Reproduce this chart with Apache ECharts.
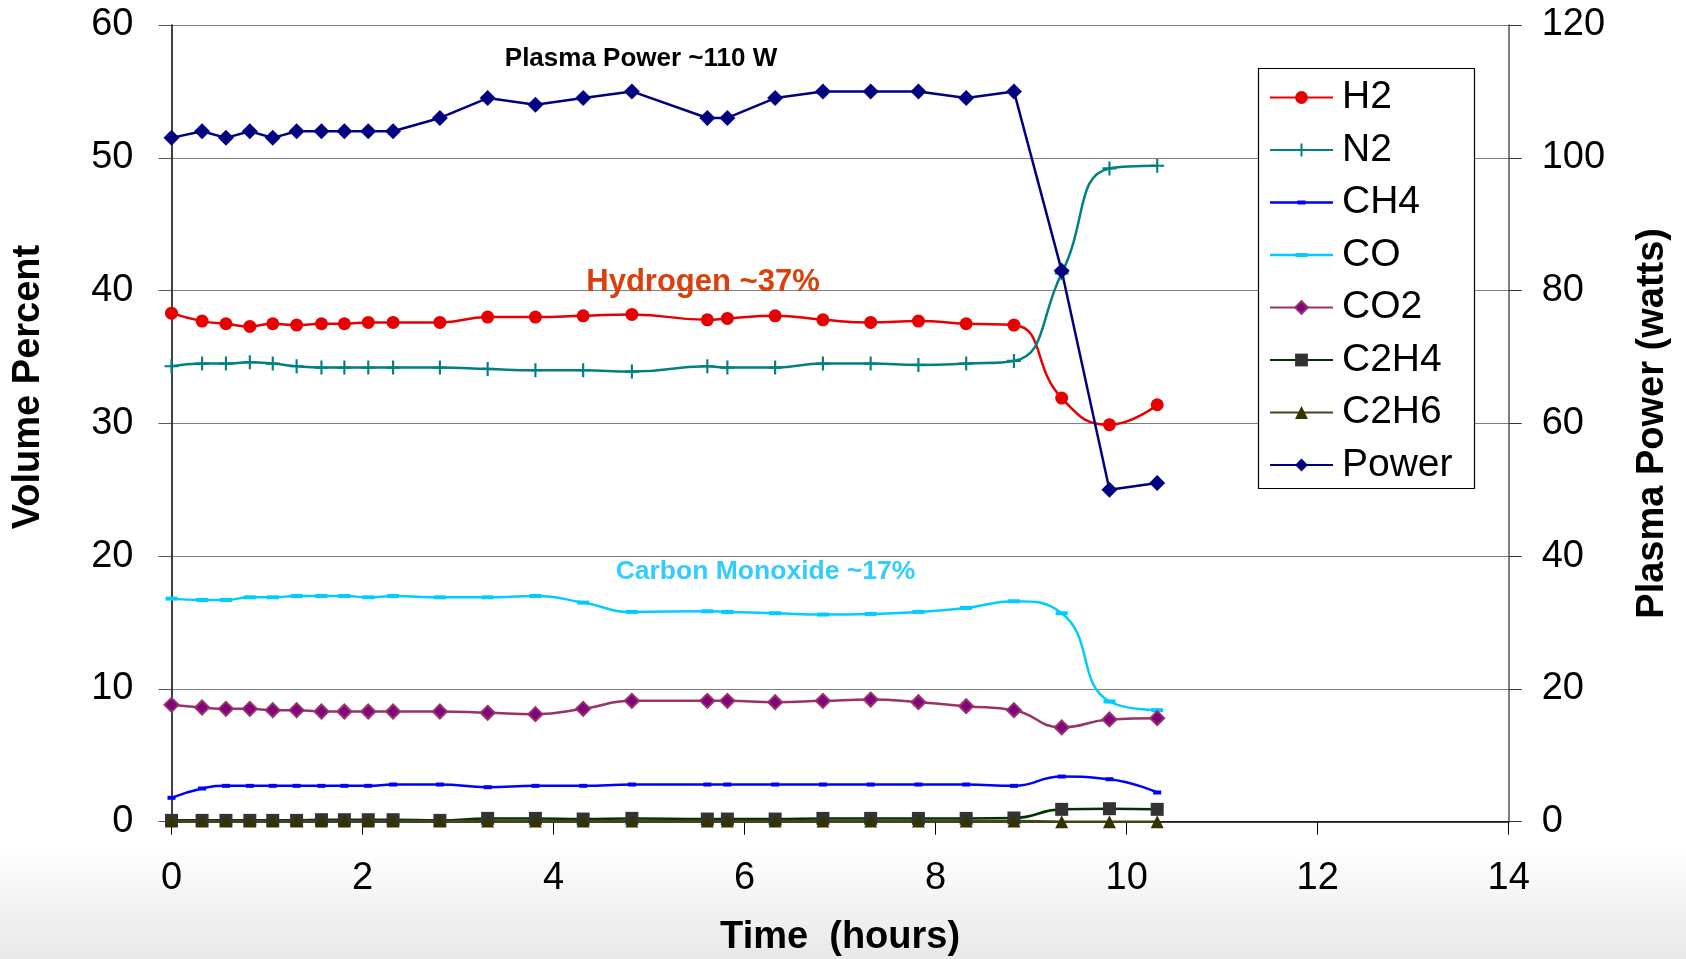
<!DOCTYPE html>
<html>
<head>
<meta charset="utf-8">
<script src="https://cdn.jsdelivr.net/npm/echarts@6/dist/echarts.min.js"></script>
<style>
html,body{margin:0;padding:0;background:#fff;}
#chart{width:1686px;height:959px;}
</style>
</head>
<body>
<div id="chart"></div>
<script>
// ---- Data ----
const hours = [0, 0.32, 0.57, 0.82, 1.06, 1.31, 1.57, 1.81, 2.06, 2.32, 2.81, 3.31, 3.81, 4.31, 4.82, 5.61, 5.82, 6.32, 6.82, 7.32, 7.82, 8.32, 8.82, 9.32, 9.82, 10.32];
const h2   = [38.3, 37.7, 37.5, 37.3, 37.5, 37.4, 37.5, 37.5, 37.6, 37.6, 37.6, 38.0, 38.0, 38.1, 38.2, 37.8, 37.9, 38.1, 37.8, 37.6, 37.7, 37.5, 37.4, 31.9, 29.9, 31.4];
const n2   = [34.3, 34.5, 34.5, 34.6, 34.5, 34.3, 34.2, 34.2, 34.2, 34.2, 34.2, 34.1, 34.0, 34.0, 33.9, 34.3, 34.2, 34.2, 34.5, 34.5, 34.4, 34.5, 34.7, 41.3, 49.2, 49.4];
const ch4  = [1.8, 2.5, 2.7, 2.7, 2.7, 2.7, 2.7, 2.7, 2.7, 2.8, 2.8, 2.6, 2.7, 2.7, 2.8, 2.8, 2.8, 2.8, 2.8, 2.8, 2.8, 2.8, 2.7, 3.4, 3.2, 2.2];
const co   = [16.8, 16.7, 16.7, 16.9, 16.9, 17.0, 17.0, 17.0, 16.9, 17.0, 16.9, 16.9, 17.0, 16.5, 15.8, 15.85, 15.8, 15.7, 15.6, 15.65, 15.8, 16.1, 16.6, 15.7, 9.05, 8.4];
const co2  = [8.8, 8.6, 8.5, 8.5, 8.4, 8.4, 8.3, 8.3, 8.3, 8.3, 8.3, 8.2, 8.1, 8.5, 9.1, 9.1, 9.1, 9.0, 9.1, 9.2, 9.0, 8.7, 8.4, 7.1, 7.7, 7.8];
const c2h4 = [0.1, 0.1, 0.1, 0.1, 0.1, 0.1, 0.15, 0.15, 0.15, 0.15, 0.1, 0.25, 0.25, 0.2, 0.25, 0.2, 0.2, 0.2, 0.25, 0.25, 0.25, 0.25, 0.28, 0.93, 0.98, 0.93];
const c2h6 = [0.05, 0.05, 0.05, 0.05, 0.05, 0.05, 0.05, 0.05, 0.05, 0.05, 0.05, 0.05, 0.05, 0.05, 0.05, 0.05, 0.05, 0.05, 0.05, 0.05, 0.05, 0.05, 0.05, 0, 0, 0];
const power = [103, 104, 103, 104, 103, 104, 104, 104, 104, 104, 106, 109, 108, 109, 110, 106, 106, 109, 110, 110, 110, 109, 110, 83, 50, 51];
const xTicks = [0, 2, 4, 6, 8, 10, 12, 14];
const leftTicks = [0, 10, 20, 30, 40, 50, 60];
const rightTicks = [0, 20, 40, 60, 80, 100, 120];
const seriesNames = ['H2', 'N2', 'CH4', 'CO', 'CO2', 'C2H4', 'C2H6', 'Power'];

const FONT = '"Liberation Sans", Arial, Helvetica, sans-serif';
const pair = arr => hours.map((h, i) => [h, arr[i]]);
const plusPath = 'path://M5.5,0H7.5V5.5H13V7.5H7.5V13H5.5V7.5H0V5.5H5.5Z';
const dashLegend = (w) => 'path://M0,6.75H' + (31.5 - w / 2) + 'V6H' + (31.5 + w / 2) + 'V6.75H63V9.25H' + (31.5 + w / 2) + 'V10H' + (31.5 - w / 2) + 'V9.25H0Z';

function lineSeries(name, data, opts) {
  return Object.assign({
    name: name,
    type: 'line',
    data: pair(data),
    smooth: 0.5,
    showSymbol: true,
    lineStyle: { width: 2.5, color: opts.line },
    itemStyle: { color: opts.fill || opts.line },
    symbol: opts.symbol,
    symbolSize: opts.size,
    yAxisIndex: 0
  }, opts.extra || {});
}

const chart = echarts.init(document.getElementById('chart'), null, { renderer: 'canvas' });
const option = {
  animation: false,
  backgroundColor: {
    type: 'linear', x: 0, y: 0, x2: 0, y2: 1,
    colorStops: [
      { offset: 0, color: '#ffffff' },
      { offset: 0.88, color: '#ffffff' },
      { offset: 1, color: '#e8e8e8' }
    ]
  },
  textStyle: { fontFamily: FONT, color: '#000' },
  grid: { left: 171.5, right: 177.3, top: 25, bottom: 137.3, containLabel: false, outerBoundsMode: 'none' },
  xAxis: {
    type: 'value', min: xTicks[0], max: xTicks[xTicks.length - 1], interval: 2,
    name: 'Time  (hours)', nameLocation: 'middle', nameGap: 97,
    nameTextStyle: { fontSize: 38, fontWeight: 'bold', fontFamily: FONT, color: '#000', lineHeight: 38 },
    axisLine: { show: true, onZero: false, lineStyle: { color: '#000', width: 1.5 } },
    axisTick: { show: true, inside: false, length: 13, lineStyle: { color: '#000' } },
    axisLabel: { fontSize: 38, color: '#000', margin: 38, fontFamily: FONT },
    splitLine: { show: false }
  },
  yAxis: [
    {
      type: 'value', min: leftTicks[0], max: leftTicks[leftTicks.length - 1], interval: 10,
      axisLine: { show: true, lineStyle: { color: '#000', width: 1.5 } },
      axisTick: { show: true, inside: false, length: 13, lineStyle: { color: '#555' } },
      axisLabel: { fontSize: 38, color: '#000', margin: 38, fontFamily: FONT, padding: [6, 0, 0, 0] },
      splitLine: { show: true, lineStyle: { color: '#808080', width: 1.2 } }
    },
    {
      type: 'value', min: rightTicks[0], max: rightTicks[rightTicks.length - 1], interval: 20,
      position: 'right',
      name: 'Plasma Power (watts)', nameLocation: 'middle', nameGap: 125, nameRotate: 90,
      nameTextStyle: { fontSize: 38, fontWeight: 'bold', fontFamily: FONT, color: '#000', lineHeight: 38 },
      axisLine: { show: true, lineStyle: { color: '#555', width: 1.5 } },
      axisTick: { show: true, inside: false, length: 13, lineStyle: { color: '#333' } },
      axisLabel: { fontSize: 38, color: '#000', margin: 33, fontFamily: FONT, padding: [6, 0, 0, 0] },
      splitLine: { show: false }
    }
  ],
  legend: {
    orient: 'vertical',
    left: 1269, top: 78,
    padding: 0,
    itemWidth: 63, itemHeight: 16, itemGap: 13.5,
    textStyle: { fontSize: 39, lineHeight: 38.5, color: '#000', fontFamily: FONT, padding: [0, 0, 0, 4] },
    data: [
      { name: 'H2' }, { name: 'N2' },
      { name: 'CH4', icon: dashLegend(8) },
      { name: 'CO', icon: dashLegend(12) },
      { name: 'CO2' }, { name: 'C2H4' }, { name: 'C2H6' }, { name: 'Power' }
    ],
    z: 10
  },
  graphic: [
    {
      type: 'rect', z: 5, silent: true,
      shape: { x: 1258.5, y: 68.5, width: 216, height: 420 },
      style: { fill: '#fff', stroke: '#000', lineWidth: 1.2 }
    },
    {
      type: 'text', z: 6, x: 29, y: 387, rotation: Math.PI / 2,
      style: { text: 'Volume Percent', fill: '#000', font: 'bold 38px ' + FONT, textAlign: 'center', textVerticalAlign: 'middle' }
    },
    {
      type: 'text', z: 6, x: 641, y: 59,
      style: { text: 'Plasma Power ~110 W', fill: '#000', font: 'bold 26px ' + FONT, textAlign: 'center', textVerticalAlign: 'middle' }
    },
    {
      type: 'text', z: 6, x: 703, y: 282,
      style: { text: 'Hydrogen ~37%', fill: '#D8400C', font: 'bold 31px ' + FONT, textAlign: 'center', textVerticalAlign: 'middle' }
    },
    {
      type: 'text', z: 6, x: 765.5, y: 571.5,
      style: { text: 'Carbon Monoxide ~17%', fill: '#33CCFF', font: 'bold 26.5px ' + FONT, textAlign: 'center', textVerticalAlign: 'middle' }
    }
  ],
  series: [
    lineSeries(seriesNames[0], h2, { line: '#E60000', symbol: 'circle', size: 13 }),
    lineSeries(seriesNames[1], n2, { line: '#008080', symbol: plusPath, size: 14 }),
    lineSeries(seriesNames[2], ch4, { line: '#0000FF', symbol: 'rect', size: [8, 4] }),
    lineSeries(seriesNames[3], co, { line: '#00CCFF', symbol: 'rect', size: [12, 4] }),
    lineSeries(seriesNames[4], co2, { line: '#993366', fill: '#800080', symbol: 'diamond', size: 14,
      extra: { itemStyle: { color: '#800080', borderColor: '#993366', borderWidth: 2 } } }),
    lineSeries(seriesNames[5], c2h4, { line: '#003300', fill: '#333333', symbol: 'rect', size: 13 }),
    lineSeries(seriesNames[6], c2h6, { line: '#44441A', fill: '#333300', symbol: 'triangle', size: 13 }),
    lineSeries(seriesNames[7], power, { line: '#000080', symbol: 'diamond', size: 16,
      extra: { smooth: false, yAxisIndex: 1 } })
  ]
};
chart.setOption(option);
</script>
</body>
</html>
